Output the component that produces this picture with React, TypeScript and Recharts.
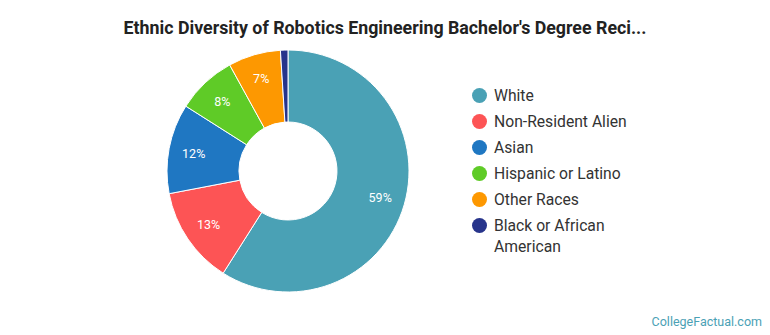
import React from 'react';
import { PieChart, Pie, Cell, Legend } from 'recharts';

const groups = ['White', 'Non-Resident Alien', 'Asian', 'Hispanic or Latino', 'Other Races', 'Black or African American'];
const shares = [59, 13, 12, 8, 7, 1];
const colors = ['#4aa1b5', '#fd5455', '#1f77c2', '#5fcb27', '#fd9801', '#27348b'];

const data = groups.map((name, i) => ({ name, value: shares[i] }));

const RADIAN = Math.PI / 180;

const renderLabel = (props: any) => {
  const { cx, cy, midAngle, value } = props;
  if (value < 5) return null;
  const r = 96;
  const x = cx + r * Math.cos(-midAngle * RADIAN);
  const y = cy + r * Math.sin(-midAngle * RADIAN);
  return (
    <text x={x} y={y} fill="#fff" fontSize={12.5} fontFamily="Roboto" textAnchor="middle" dominantBaseline="central">
      {`${value}%`}
    </text>
  );
};

const LegendList = () => (
  <ul style={{ listStyle: 'none', margin: 0, padding: 0, fontFamily: 'Roboto', fontSize: 15.7, color: '#333' }}>
    {groups.map((g, i) => (
      <li key={g} style={{ display: 'flex', alignItems: 'flex-start', marginBottom: 5, lineHeight: '21px' }}>
        <span style={{ width: 15, height: 15, borderRadius: '50%', background: colors[i], marginTop: 3, marginRight: 7, flexShrink: 0 }} />
        <span style={{ width: 140 }}>{g}</span>
      </li>
    ))}
  </ul>
);

export default function App() {
  return (
    <div style={{ position: 'absolute', left: 0, top: 0, width: 770, height: 335, background: '#fff' }}>
      <div style={{ position: 'absolute', left: 0, top: 17, width: 770, textAlign: 'center', fontFamily: 'Roboto', fontWeight: 700, fontSize: 17.8, color: '#222' }}>
        Ethnic Diversity of Robotics Engineering Bachelor's Degree Reci...
      </div>
      <PieChart width={770} height={335} margin={{ top: 0, right: 0, bottom: 0, left: 0 }}>
        <Pie
          data={data}
          dataKey="value"
          nameKey="name"
          cx={288}
          cy={171}
          innerRadius={49}
          outerRadius={121}
          startAngle={90}
          endAngle={-270}
          stroke="#fff"
          strokeWidth={1}
          label={renderLabel}
          labelLine={false}
          isAnimationActive={false}
        >
          {data.map((d, i) => (
            <Cell key={d.name} fill={colors[i]} />
          ))}
        </Pie>
        <Legend content={<LegendList />} wrapperStyle={{ position: 'absolute', left: 472, top: 85, width: 200 }} />
      </PieChart>
      <div style={{ position: 'absolute', right: 8, top: 314, fontFamily: 'Roboto', fontSize: 12.5, color: '#4aa1b5' }}>
        CollegeFactual.com
      </div>
    </div>
  );
}
